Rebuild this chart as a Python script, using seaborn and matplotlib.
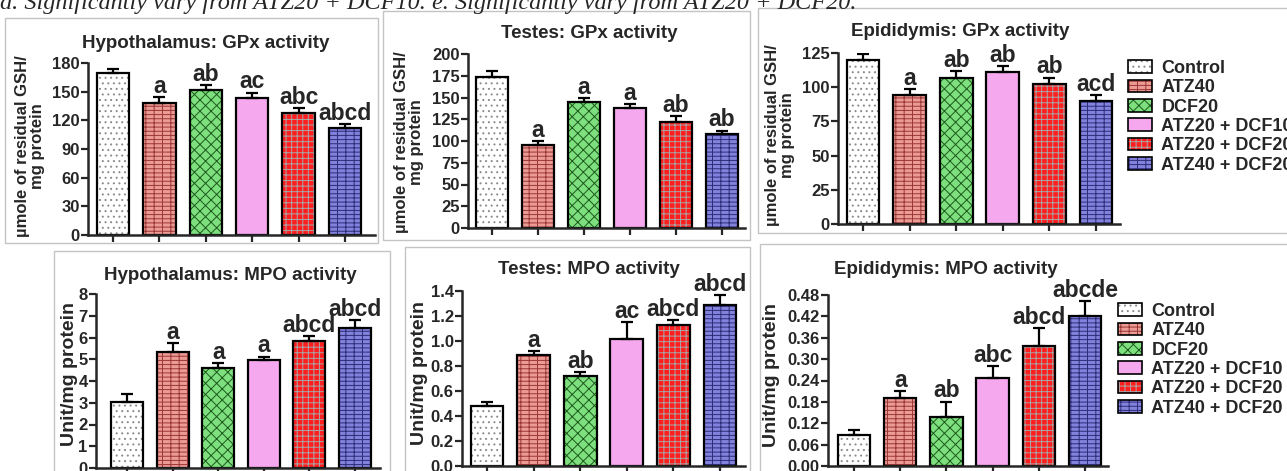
import numpy as np
import pandas as pd
import matplotlib
matplotlib.use("Agg")
import matplotlib.pyplot as plt
from matplotlib.patches import Patch, Rectangle
from matplotlib.colors import to_rgba
import seaborn as sns

# ---------------- data ----------------
groups = ["Control", "ATZ40", "DCF20", "ATZ20 + DCF10", "ATZ20 + DCF20", "ATZ40 + DCF20"]

hyp_gpx = [170, 138, 152, 143, 128, 112]
hyp_gpx_err = [4, 6, 5, 6, 5, 4]
hyp_gpx_sig = ["", "a", "ab", "ac", "abc", "abcd"]

tes_gpx = [173, 95, 145, 138, 122, 108]
tes_gpx_err = [7, 5, 4, 4, 7, 4]
tes_gpx_sig = ["", "a", "a", "a", "ab", "ab"]

epi_gpx = [120, 94, 107, 111, 102, 90]
epi_gpx_err = [4, 4.5, 5, 4.5, 5, 4]
epi_gpx_sig = ["", "a", "ab", "ab", "ab", "acd"]

hyp_mpo = [3.05, 5.35, 4.6, 4.95, 5.85, 6.45]
hyp_mpo_err = [0.35, 0.4, 0.22, 0.17, 0.23, 0.35]
hyp_mpo_sig = ["", "a", "a", "a", "abcd", "abcd"]

tes_mpo = [0.48, 0.89, 0.72, 1.02, 1.13, 1.29]
tes_mpo_err = [0.035, 0.03, 0.03, 0.13, 0.04, 0.08]
tes_mpo_sig = ["", "a", "ab", "ac", "abcd", "abcd"]

epi_mpo = [0.088, 0.19, 0.138, 0.248, 0.337, 0.42]
epi_mpo_err = [0.012, 0.02, 0.043, 0.033, 0.05, 0.042]
epi_mpo_sig = ["", "a", "ab", "abc", "abcd", "abcde"]

titles = ["Hypothalamus: GPx activity", "Testes: GPx activity", "Epididymis: GPx activity",
          "Hypothalamus: MPO activity", "Testes: MPO activity", "Epididymis: MPO activity"]
gpx_ylabel = "µmole of residual GSH/\nmg protein"
mpo_ylabel = "Unit/mg protein"
footnote = "d. Significantly vary from ATZ20 + DCF10. e. Significantly vary from ATZ20 + DCF20."

# ---------------- styles ----------------
fills = ["#ffffff", "#ec9a94", "#7ddf7d", "#f6a8ef", "#ff1e1e", "#8282dc"]
hatches = ["...", "----||", "xxx", "", "+++", "----||"]
hatch_cols = ["#8a8a8a", "#9a3636", "#1d5a1d", "#f6a8ef", "#a6a6a6", "#2c2c78"]

sns.set_style("ticks")
plt.rcParams["font.family"] = ["Liberation Sans", "DejaVu Sans"]
plt.rcParams["font.weight"] = "bold"
plt.rcParams["hatch.linewidth"] = 0.7

W, H = 1287, 471
fig = plt.figure(figsize=(W / 100, H / 100), dpi=100)


def set_hcolor(p, c):
    if hasattr(p, "set_hatchcolor"):
        p.set_hatchcolor(c)
    else:
        p._hatch_color = to_rgba(c)


def px_rect(l, r, t, b):
    return [l / W, 1 - b / H, (r - l) / W, (b - t) / H]


panels = [
    dict(vals=hyp_gpx, err=hyp_gpx_err, sig=hyp_gpx_sig, rect=(88, 375, 63, 235), ticks=(113, 345),
         ylim=180, ystep=30, fmt="{:.0f}", title=(206, 43), ylab=gpx_ylabel, ylabpos=(30, 146), ylabsize=12),
    dict(vals=tes_gpx, err=tes_gpx_err, sig=tes_gpx_sig, rect=(468, 745, 54, 228), ticks=(492, 722),
         ylim=200, ystep=25, fmt="{:.0f}", title=(589, 33), ylab=gpx_ylabel, ylabpos=(409, 142), ylabsize=12),
    dict(vals=epi_gpx, err=epi_gpx_err, sig=epi_gpx_sig, rect=(838, 1120, 53, 224), ticks=(863, 1096),
         ylim=125, ystep=25, fmt="{:.0f}", title=(960, 32), ylab=gpx_ylabel, ylabpos=(780, 135), ylabsize=12),
    dict(vals=hyp_mpo, err=hyp_mpo_err, sig=hyp_mpo_sig, rect=(96, 380, 294, 468), ticks=(127, 355),
         ylim=8, ystep=1, fmt="{:.0f}", title=(230, 276), ylab=mpo_ylabel, ylabpos=(70, 374), ylabsize=14),
    dict(vals=tes_mpo, err=tes_mpo_err, sig=tes_mpo_sig, rect=(462, 745, 291, 466), ticks=(487, 720),
         ylim=1.4, ystep=0.2, fmt="{:.1f}", title=(589, 270), ylab=mpo_ylabel, ylabpos=(419, 373), ylabsize=14),
    dict(vals=epi_mpo, err=epi_mpo_err, sig=epi_mpo_sig, rect=(828, 1108, 295, 466), ticks=(854, 1085),
         ylim=0.48, ystep=0.06, fmt="{:.2f}", title=(946, 269), ylab=mpo_ylabel, ylabpos=(772, 375), ylabsize=14),
]

# panel frames
frames = [(5, 378, 18, 243), (383, 750, 11, 240), (758, 1300, 8, 233),
          (54, 390, 251, 485), (405, 750, 247, 485), (760, 1300, 244, 485)]
for (l, r, t, b) in frames:
    fig.add_artist(Rectangle((l / W, 1 - b / H), (r - l) / W, (b - t) / H,
                             transform=fig.transFigure, fill=False,
                             edgecolor="#c4c4c4", linewidth=1.0))

axes = []
for i, pnl in enumerate(panels):
    l, r, t, b = pnl["rect"]
    ax = fig.add_axes(px_rect(l, r, t, b))
    axes.append(ax)
    df = pd.DataFrame({"group": groups, "value": pnl["vals"]})
    sns.barplot(data=df, x="group", y="value", hue="group", order=groups, hue_order=groups,
                palette=fills, saturation=1, width=0.7, edgecolor="black", linewidth=1.6,
                errorbar=None, legend=False, ax=ax, zorder=2)
    for p, hch, hc in zip(ax.patches, hatches, hatch_cols):
        p.set_hatch(hch)
        set_hcolor(p, hc)
    xs = np.arange(len(groups))
    vals = np.array(pnl["vals"], dtype=float)
    errs = np.array(pnl["err"], dtype=float)
    ax.errorbar(xs, vals, yerr=[np.zeros_like(errs), errs], fmt="none", ecolor="black",
                elinewidth=1.6, capsize=4.5, capthick=1.6, zorder=3)
    for x, v, e, s in zip(xs, vals, errs, pnl["sig"]):
        if s:
            ax.annotate(s, (x, v + e), xytext=(0, 3), textcoords="offset points",
                        ha="center", va="baseline", fontsize=16.5, fontweight="bold",
                        annotation_clip=False)
    x0, x5 = pnl["ticks"]
    step = (x5 - x0) / 5
    ax.set_xlim((l - x0) / step, (r - x0) / step)
    ax.set_ylim(0, pnl["ylim"])
    yt = np.arange(0, pnl["ylim"] + pnl["ystep"] / 2, pnl["ystep"])
    ax.set_yticks(yt)
    ax.set_yticklabels([pnl["fmt"].format(v) for v in yt], fontsize=12, fontweight="bold")
    ax.set_xticks(xs)
    ax.set_xticklabels([])
    ax.set_xlabel("")
    ax.set_ylabel("")
    ax.tick_params(axis="both", length=5, width=1.6, direction="out", pad=1)
    ax.patch.set_alpha(0)
    for sp in ["left", "bottom"]:
        ax.spines[sp].set_linewidth(1.8)
    sns.despine(ax=ax)
    tx, ty = pnl["title"]
    fig.text(tx / W, 1 - ty / H, titles[i], ha="center", va="center", fontsize=13.5, fontweight="bold")
    yx, yy = pnl["ylabpos"]
    fig.text(yx / W, 1 - yy / H, pnl["ylab"], rotation=90, ha="center", va="center",
             fontsize=pnl["ylabsize"], fontweight="bold", multialignment="center", linespacing=1.05)

# legends
handles = []
for f, hch, hc in zip(fills, hatches, hatch_cols):
    hp = Patch(facecolor=f, edgecolor="black", linewidth=1.2, hatch=hch)
    set_hcolor(hp, hc)
    handles.append(hp)

for ax, (lx, ty) in [(axes[2], (1128, 60)), (axes[5], (1118, 303))]:
    leg = ax.legend(handles, groups, loc="upper left", bbox_to_anchor=(lx / W, 1 - ty / H),
                    bbox_transform=fig.transFigure, frameon=False,
                    prop={"size": 13, "weight": "bold"}, handlelength=1.35, handleheight=0.7,
                    handletextpad=0.5, labelspacing=0.13, borderpad=0, borderaxespad=0)
    for lp, hc in zip(leg.get_patches(), hatch_cols):
        set_hcolor(lp, hc)

# cut-off footnote line at the very top
fig.text(0 / W, 1 - 9 / H, footnote, ha="left", va="baseline", fontsize=17.5,
         family=["Liberation Serif", "DejaVu Serif"], style="italic", fontweight="normal")

fig.savefig("out.png", dpi=100)
